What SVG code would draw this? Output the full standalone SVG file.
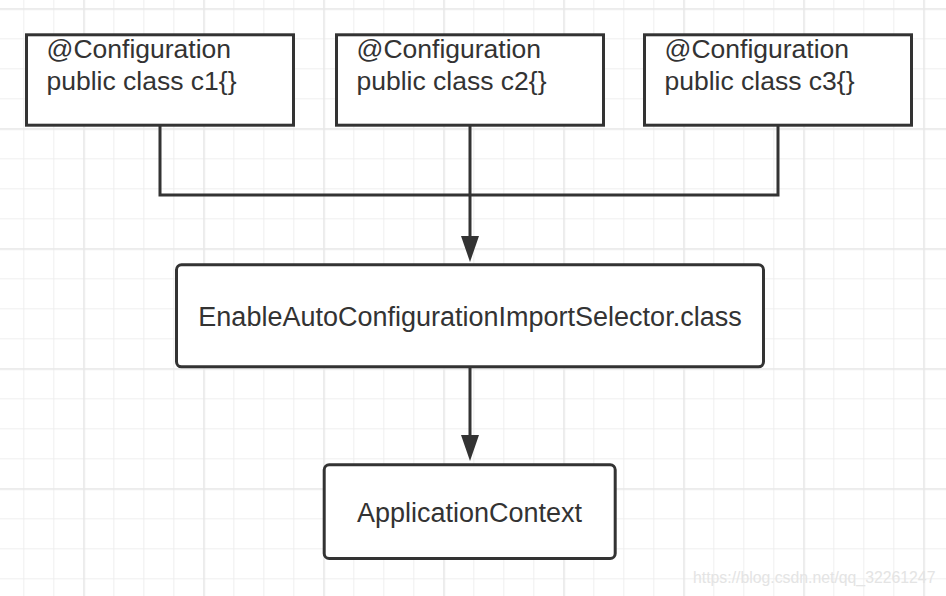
<svg xmlns="http://www.w3.org/2000/svg" width="946" height="596" viewBox="0 0 946 596">
  <defs>
    <pattern id="gridMinor" x="23.3" y="8.3" width="30" height="30" patternUnits="userSpaceOnUse">
      <path d="M0.5 0 V30 M0 0.5 H30" fill="none" stroke="#efefef" stroke-width="1.2"/>
    </pattern>
    <pattern id="gridMajor" x="83.3" y="8.3" width="120" height="120" patternUnits="userSpaceOnUse">
      <path d="M0.75 0 V120 M0 0.75 H120" fill="none" stroke="#e8e8e8" stroke-width="1.5"/>
    </pattern>
    <marker id="arrow" viewBox="0 0 26 18" refX="4" refY="9" markerWidth="26" markerHeight="18" markerUnits="userSpaceOnUse" orient="auto">
      <path d="M0,0 L26,9 L0,18 Z" fill="#333333"/>
    </marker>
  </defs>
  <style>
    .box { fill: #ffffff; stroke: #333333; stroke-width: 3; }
    .conn { fill: none; stroke: #333333; stroke-width: 3; }
    .label { font-family: "Liberation Sans", Arial, sans-serif; fill: #333333; }
    .cfg { font-size: 26.5px; }
    .mid { font-size: 27px; text-anchor: middle; }
    .wm { font-family: "Liberation Sans", Arial, sans-serif; font-size: 15.8px; fill: #e4e4e4; }
  </style>

  <rect width="946" height="596" fill="#ffffff"/>
  <rect width="946" height="596" fill="url(#gridMinor)"/>
  <rect width="946" height="596" fill="url(#gridMajor)"/>

  <g id="connectors">
    <path class="conn" d="M160 126 V195 H778 V126"/>
    <path class="conn" d="M470 126 V240" marker-end="url(#arrow)"/>
    <path class="conn" d="M470 368 V439" marker-end="url(#arrow)"/>
  </g>

  <g id="c1">
    <rect class="box" x="26.5" y="34.8" width="267" height="90.4"/>
    <text class="label cfg" x="46.5" y="58">@Configuration</text>
    <text class="label cfg" x="46.5" y="90">public class c1{}</text>
  </g>

  <g id="c2">
    <rect class="box" x="336.5" y="34.8" width="267" height="90.4"/>
    <text class="label cfg" x="356.5" y="58">@Configuration</text>
    <text class="label cfg" x="356.5" y="90">public class c2{}</text>
  </g>

  <g id="c3">
    <rect class="box" x="644.5" y="34.8" width="267" height="90.4"/>
    <text class="label cfg" x="664.5" y="58">@Configuration</text>
    <text class="label cfg" x="664.5" y="90">public class c3{}</text>
  </g>

  <g id="selector">
    <rect class="box" x="176.5" y="264.8" width="587" height="102" rx="5" ry="5"/>
    <text class="label mid" x="470" y="325.5">EnableAutoConfigurationImportSelector.class</text>
  </g>

  <g id="appContext">
    <rect class="box" x="324.2" y="464.8" width="291" height="93.7" rx="5" ry="5"/>
    <text class="label mid" x="469.5" y="521.5">ApplicationContext</text>
  </g>

  <text class="wm" x="693" y="583">https://blog.csdn.net/qq_32261247</text>
</svg>
